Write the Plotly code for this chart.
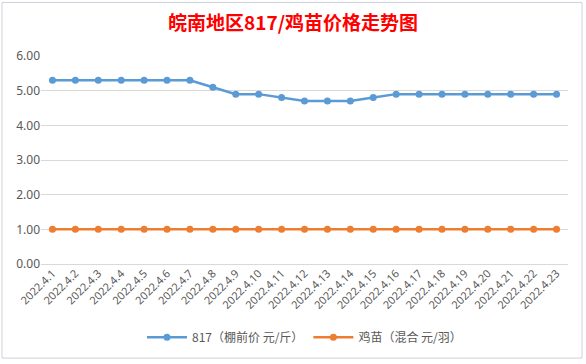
import plotly.graph_objects as go

dates = ["2022.4.1", "2022.4.2", "2022.4.3", "2022.4.4", "2022.4.5", "2022.4.6", "2022.4.7",
         "2022.4.8", "2022.4.9", "2022.4.10", "2022.4.11", "2022.4.12", "2022.4.13", "2022.4.14",
         "2022.4.15", "2022.4.16", "2022.4.17", "2022.4.18", "2022.4.19", "2022.4.20",
         "2022.4.21", "2022.4.22", "2022.4.23"]
price_817 = [5.3, 5.3, 5.3, 5.3, 5.3, 5.3, 5.3, 5.1, 4.9, 4.9, 4.8, 4.7, 4.7, 4.7,
             4.8, 4.9, 4.9, 4.9, 4.9, 4.9, 4.9, 4.9, 4.9]
price_chick = [1.0] * 23
series_names = ["817（棚前价 元/斤）", "鸡苗（混合 元/羽）"]
title_text = "皖南地区817/鸡苗价格走势图"
yticks = [0, 1, 2, 3, 4, 5, 6]

W, H = 586, 364
ML, MR, MT, MB = 41, 18, 56, 98
PW, PH = W - ML - MR, H - MT - MB

def px_x(p):
    return (p - ML) / PW

def px_y(p):
    return (H - MB - p) / PH

fig = go.Figure()
fig.add_trace(go.Scatter(x=dates, y=price_817, name=series_names[0], mode="lines+markers",
                         line=dict(color="#5B9BD5", width=2.5), marker=dict(size=7, color="#5B9BD5"),
                         cliponaxis=False))
fig.add_trace(go.Scatter(x=dates, y=price_chick, name=series_names[1], mode="lines+markers",
                         line=dict(color="#ED7D31", width=2.5), marker=dict(size=7, color="#ED7D31"),
                         cliponaxis=False))

# chart-area frame
fig.add_shape(type="rect", xref="paper", yref="paper",
              x0=px_x(2), x1=px_x(582), y0=px_y(361), y1=px_y(2),
              line=dict(color="#D0D0DA", width=1), fillcolor="rgba(0,0,0,0)", layer="below")

fig.update_layout(
    width=W, height=H,
    paper_bgcolor="white", plot_bgcolor="white",
    margin=dict(l=ML, r=MR, t=MT, b=MB),
    title=dict(text=title_text, x=0.5, xanchor="center", y=1 - 23 / H, yanchor="middle",
               font=dict(family="Noto Sans CJK SC", size=19, color="#FF0000", weight="bold")),
    font=dict(family="Noto Sans CJK SC, Noto Sans", color="#595959"),
    showlegend=True,
    legend=dict(orientation="h", x=0.5, xanchor="center", y=px_y(340), yanchor="middle",
                font=dict(size=12, color="#595959"), itemwidth=40),
    xaxis=dict(type="category", tickangle=-45, tickfont=dict(size=11, family="Noto Sans"),
               showgrid=False, showline=False, ticks="", range=[-0.5, len(dates) - 0.5],
               automargin=False),
    yaxis=dict(range=[0, 6], tickvals=yticks, tickformat=".2f", tickfont=dict(size=12, family="Noto Sans"),
               showgrid=True, gridcolor="#D9D9D9", gridwidth=1, zeroline=True, zerolinecolor="#D9D9D9",
               zerolinewidth=1, showline=False, ticks="", ticklen=0, automargin=False),
)

fig.write_html("out.html", config={"displayModeBar": False, "staticPlot": True},
               post_script="document.body.style.margin='0';document.body.style.overflow='hidden';")
